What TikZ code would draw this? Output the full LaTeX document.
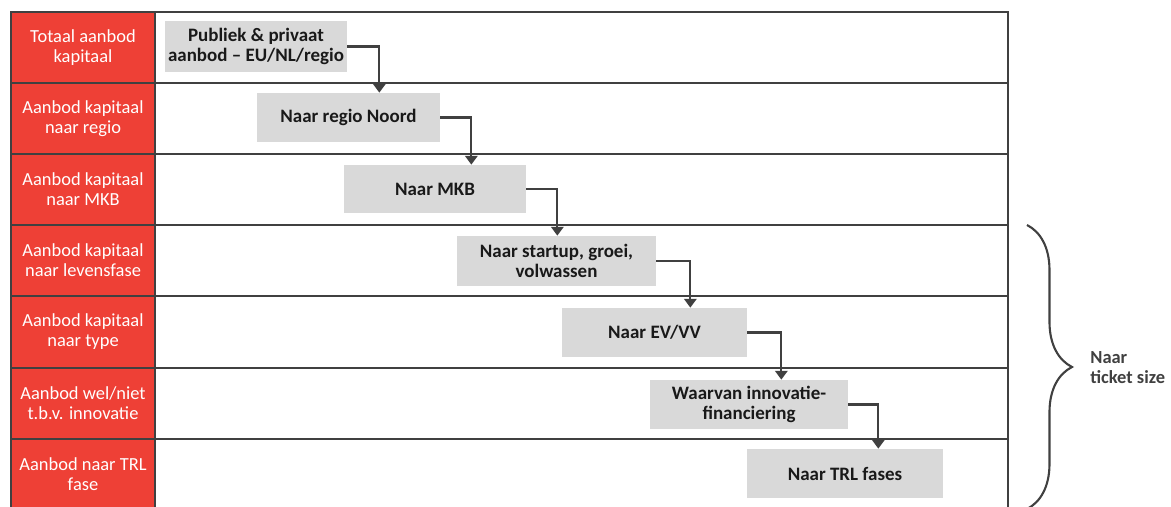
\documentclass[tikz,border=0pt]{standalone}
\usepackage{fontspec}
\setmainfont{Carlito}
\usetikzlibrary{arrows.meta, positioning, decorations.pathreplacing}
\definecolor{rowred}{HTML}{EE4036}
\definecolor{gridgrey}{HTML}{404040}
\definecolor{stepgrey}{HTML}{D9D9D9}

\tikzset{
  rowlabel/.style={text=white, align=center, font=\fontsize{10.5}{11.4}\selectfont},
  stepbox/.style={fill=stepgrey, align=center, inner sep=0pt, text=black!90,
    font=\fontsize{10.8}{11.4}\selectfont\bfseries},
  link/.style={draw=gridgrey, line width=1.3pt, -{Triangle[width=7pt, length=5pt]}},
}

\begin{document}
\begin{tikzpicture}[x=0.02cm, y=-0.02cm]
      \useasboundingbox (0,0) rectangle (1171,507);
      \clip (0,0) rectangle (1171,507);
      % table
      \fill[rowred] (11,12) rectangle (155,515);
      \draw[gridgrey, line width=1.4pt] (11,12) rectangle (1008,515);
      \draw[gridgrey, line width=1.4pt] (155,12) -- (155,515);
      \foreach \y in {83,154,225,296,368,439}
        \draw[gridgrey, line width=1.4pt] (11,\y) -- (1008,\y);

      \node[rowlabel] (l1) at (83,47.5) {Totaal aanbod\\kapitaal};
      \node[rowlabel] (l2) at (83,118.5) {Aanbod kapitaal\\naar regio};
      \node[rowlabel] (l3) at (83,189.5) {Aanbod kapitaal\\naar MKB};
      \node[rowlabel] (l4) at (83,260.5) {Aanbod kapitaal\\naar levensfase};
      \node[rowlabel] (l5) at (83,332) {Aanbod kapitaal\\naar type};
      \node[rowlabel] (l6) at (83,403.5) {Aanbod wel/niet\\t.b.v. innovatie};
      \node[rowlabel] (l7) at (83,474) {Aanbod naar TRL\\fase};

      % steps
      \node[stepbox, minimum width=3.64cm, minimum height=1.02cm] (b1) at (256,46.5)
        {Publiek \& privaat\\aanbod -- EU/NL/regio};
      \node[stepbox, minimum width=3.66cm, minimum height=0.98cm] (b2) at (348.5,117.5)
        {Naar regio Noord};
      \node[stepbox, minimum width=3.64cm, minimum height=0.96cm] (b3) at (435,189)
        {Naar MKB};
      \node[stepbox, minimum width=3.98cm, minimum height=1.0cm] (b4) at (556.5,261)
        {Naar startup, groei,\\volwassen};
      \node[stepbox, minimum width=3.7cm, minimum height=0.98cm] (b5) at (654.5,332.5)
        {Naar EV/VV};
      \node[stepbox, minimum width=3.96cm, minimum height=0.98cm] (b6) at (749,404.5)
        {Waarvan innovatie-\\financiering};
      \node[stepbox, minimum width=3.92cm, minimum height=0.98cm] (b7) at (845,473.5)
        {Naar TRL fases};

      \path (b1.east) ++(32,0) coordinate (k1);
      \path (b2.east) ++(31,0) coordinate (k2);
      \path (b3.east) ++(31,0) coordinate (k3);
      \path (b4.east) ++(34,0) coordinate (k4);
      \path (b5.east) ++(34,0) coordinate (k5);
      \path (b6.east) ++(30,0) coordinate (k6);
      \draw[link] (b1.east) -| (k1 |- b2.north);
      \draw[link] (b2.east) -| (k2 |- b3.north);
      \draw[link] (b3.east) -| (k3 |- b4.north);
      \draw[link] (b4.east) -| (k4 |- b5.north);
      \draw[link] (b5.east) -| (k5 |- b6.north);
      \draw[link] (b6.east) -| (k6 |- b7.north);

      % brace
      \draw[gridgrey, line width=1.2pt, decorate, decoration={brace, amplitude=0.9cm}]
        (1027,225) -- (1027,509);
      \node[anchor=west, align=left, text=gridgrey, inner sep=0pt,
        font=\fontsize{10.5}{11.4}\selectfont\bfseries] (tk) at (1090,368)
        {Naar\\ticket size};
    \end{tikzpicture}
\end{document}
